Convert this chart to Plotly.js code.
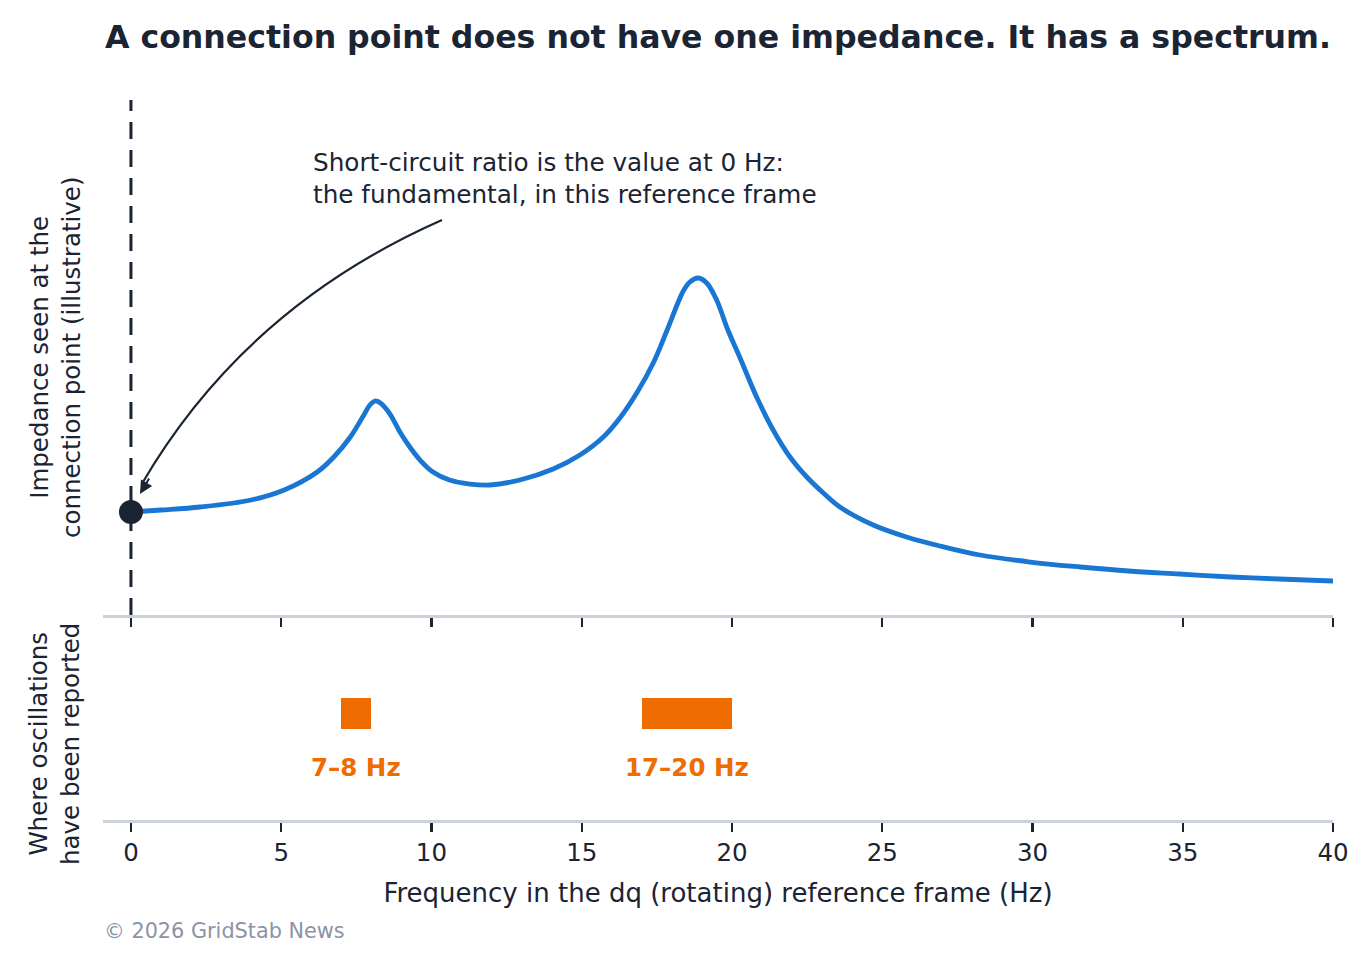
<!DOCTYPE html>
<html>
<head>
<meta charset="utf-8">
<script src="https://cdn.plot.ly/plotly-3.0.1.min.js"></script>
<style>html,body{margin:0;padding:0;background:#fff;}#chart{width:1362px;height:967px;}</style>
</head>
<body>
<div id="chart"></div>
<script>
// Impedance spectrum (illustrative)
const freq = [0, 1, 2.3, 4.0, 5.1, 6.2, 6.75, 7.3, 7.73, 7.95, 8.12, 8.3, 8.62, 8.95, 9.28, 9.62, 10.05, 10.6, 11.28, 11.95, 12.94, 14.05, 14.94, 15.72, 16.27, 16.83, 17.38, 17.83, 18.38, 18.6, 18.88, 19.16, 19.49, 19.85, 20.27, 20.82, 21.37, 21.93, 22.49, 23.04, 23.59, 24.70, 25.81, 26.92, 28.25, 29.92, 31.6, 33.2, 34.9, 36.6, 38.2, 40.0];
const impedance = [1.03, 1.05, 1.08, 1.15, 1.25, 1.43, 1.58, 1.78, 1.99, 2.10, 2.14, 2.12, 2.01, 1.83, 1.68, 1.55, 1.43, 1.35, 1.31, 1.30, 1.35, 1.46, 1.60, 1.78, 1.97, 2.22, 2.52, 2.84, 3.24, 3.33, 3.37, 3.32, 3.15, 2.86, 2.57, 2.18, 1.85, 1.58, 1.38, 1.22, 1.08, 0.90, 0.78, 0.69, 0.60, 0.53, 0.48, 0.44, 0.41, 0.38, 0.36, 0.34];

// Frequency bands where oscillations have been reported
const bandStart = [7, 17];
const bandEnd = [8, 20];
const bandLabels = ['7–8 Hz', '17–20 Hz'];

const xTicks = [0, 5, 10, 15, 20, 25, 30, 35, 40];

const DARK = '#1b2433';
const BLUE = '#1976d2';
const ORANGE = '#ef6c00';
const AXIS = '#cbd2db';
const FONT = 'DejaVu Sans, Verdana, sans-serif';

const traces = [
  {
    type: 'scatter', mode: 'lines', x: freq, y: impedance,
    line: {color: BLUE, width: 4.8, shape: 'spline', smoothing: 1},
    xaxis: 'x', yaxis: 'y', hoverinfo: 'skip', cliponaxis: true
  },
  {
    type: 'scatter', mode: 'markers', x: [freq[0]], y: [impedance[0]],
    marker: {color: DARK, size: 24},
    xaxis: 'x', yaxis: 'y', hoverinfo: 'skip', cliponaxis: false
  },
  {
    type: 'bar', orientation: 'h',
    base: bandStart,
    x: bandEnd.map((e, i) => e - bandStart[i]),
    y: bandStart.map(() => 0.52),
    width: 0.15,
    marker: {color: ORANGE, line: {width: 0}},
    xaxis: 'x2', yaxis: 'y2', hoverinfo: 'skip'
  }
];

const annotations = [
  {
    xref: 'x', yref: 'y', x: 6.0, y: 4.37, xanchor: 'left', yanchor: 'middle', align: 'left',
    text: 'Short-circuit ratio is the value at 0 Hz:<br>the fundamental, in this reference frame',
    showarrow: false, font: {family: FONT, size: 24.7, color: DARK}
  },
  {
    xref: 'x', yref: 'y', x: 0.30, y: 1.21, ax: 10, ay: -17, axref: 'pixel', ayref: 'pixel',
    text: '', showarrow: true, arrowhead: 2, arrowsize: 1.3, arrowwidth: 2, arrowcolor: DARK
  },
  {
    xref: 'paper', yref: 'paper', x: -0.039, y: 0.643, xanchor: 'center', yanchor: 'middle',
    textangle: -90, text: 'Impedance seen at the<br>connection point (illustrative)',
    showarrow: false, font: {family: FONT, size: 24.5, color: DARK}
  },
  {
    xref: 'paper', yref: 'paper', x: -0.039, y: 0.1056, xanchor: 'center', yanchor: 'middle',
    textangle: -90, text: 'Where oscillations<br>have been reported',
    showarrow: false, font: {family: FONT, size: 24.5, color: DARK}
  },
  {
    xref: 'paper', yref: 'paper', x: -0.001, y: -0.154, xanchor: 'left', yanchor: 'middle',
    text: '© 2026 GridStab News', showarrow: false,
    font: {family: FONT, size: 20.8, color: '#8a94a6'}
  }
];

bandLabels.forEach((lab, i) => {
  annotations.push({
    xref: 'x2', yref: 'y2', x: (bandStart[i] + bandEnd[i]) / 2, y: 0.254,
    xanchor: 'center', yanchor: 'middle', text: lab, showarrow: false,
    font: {family: FONT, size: 24.5, color: ORANGE, weight: 700}
  });
});

const shapes = [
  {
    type: 'line', xref: 'x', yref: 'y domain', x0: 0, x1: 0, y0: 0, y1: 1, layer: 'below',
    line: {color: DARK, width: 3, dash: '17px,11px'}
  },
  {
    type: 'path', xref: 'x', yref: 'y', layer: 'above',
    path: 'M 10.35,3.95 Q 3.79,3.08 0.36,1.31',
    line: {color: DARK, width: 2.2}
  }
];

const xCommon = {
  range: [-0.93, 40], showgrid: false, zeroline: false,
  showline: true, linecolor: AXIS, linewidth: 2.5,
  ticks: 'outside', ticklen: 9, tickwidth: 2.2, tickcolor: DARK,
  tickmode: 'array', tickvals: xTicks, ticktext: xTicks.map(String),
  tickfont: {family: FONT, size: 24.5, color: DARK}, fixedrange: true
};

const layout = {
  width: 1362, height: 967,
  margin: {l: 103, r: 29, t: 100, b: 147},
  paper_bgcolor: '#ffffff', plot_bgcolor: '#ffffff',
  showlegend: false,
  font: {family: FONT, color: DARK},
  title: {
    text: 'A connection point does not have one impedance. It has a spectrum.',
    font: {family: FONT, size: 31.6, color: DARK, weight: 700},
    xref: 'paper', x: 0.5, xanchor: 'center',
    yref: 'container', y: 1 - 37 / 967, yanchor: 'middle'
  },
  xaxis: Object.assign({}, xCommon, {anchor: 'y', showticklabels: false}),
  xaxis2: Object.assign({}, xCommon, {
    anchor: 'y2', showticklabels: true,
    title: {text: 'Frequency in the dq (rotating) reference frame (Hz)', standoff: 18,
            font: {family: FONT, size: 26, color: DARK}}
  }),
  yaxis: {domain: [0.2847, 1], range: [0, 5.15], visible: false, fixedrange: true},
  yaxis2: {domain: [0, 0.2847], range: [0, 1], visible: false, fixedrange: true},
  bargap: 0,
  annotations: annotations,
  shapes: shapes
};

Plotly.newPlot('chart', traces, layout, {displayModeBar: false, staticPlot: true});
</script>
</body>
</html>
